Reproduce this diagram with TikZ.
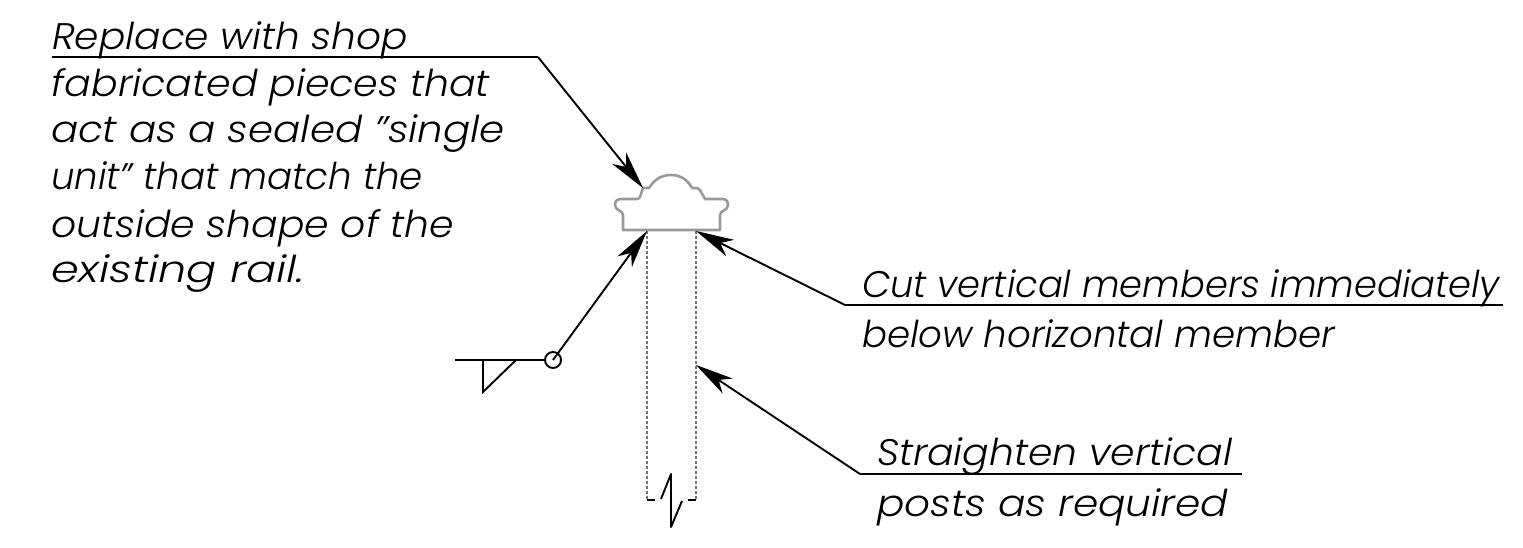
\documentclass[tikz,border=0pt]{standalone}
\usepackage{fontspec}
\usepackage{graphicx}
\setmainfont{Poppins}[UprightFont=* Light,ItalicFont=* Light Italic]
\usetikzlibrary{arrows.meta}
\newcommand\fitline[2]{\resizebox{#1pt}{\height}{\itshape\strut #2}}
\tikzset{
  x=1pt,y=-1pt,
  cadtext/.style={anchor=base west,inner sep=0pt,outer sep=0pt,font=\fontsize{37}{37}\selectfont},
  leader/.style={line width=1.9pt,black,-{Stealth[length=38pt,width=18pt,inset=11pt]}},
  rule/.style={line width=1.9pt,black},
  railedge/.style={line width=2.6pt,color=black!40},
  hidden/.style={line width=2.4pt,color=black!55,dash pattern=on 3pt off 2pt},
}
\begin{document}
\begin{tikzpicture}
\useasboundingbox (0,0) rectangle (1523,548);
% left note
\node[cadtext] (n1) at (52,50) {\fitline{356}{Replace with shop}};
\node[cadtext] (n2) at (52,97) {\fitline{438}{fabricated pieces that}};
\node[cadtext] (n3) at (51,143) {\fitline{454}{act as a sealed "single}};
\node[cadtext] (n4) at (51,190) {\fitline{372}{unit" that match the}};
\node[cadtext] (n5) at (51,237) {\fitline{403}{outside shape of the}};
\node[cadtext] (n6) at (51,283) {\fitline{254}{existing rail.}};
% right notes
\node[cadtext] (c1) at (862,297) {\fitline{638}{Cut vertical members immediately}};
\node[cadtext] (c2) at (862,347) {\fitline{473}{below horizontal member}};
\node[cadtext] (s1) at (877,465) {\fitline{355}{Straighten vertical}};
\node[cadtext] (s2) at (877,516) {\fitline{351}{posts as required}};
% rail
\draw[railedge,line join=round]
  (623,230) -- (720,230) -- (720,215)
  .. controls (720,210) and (728,211) .. (728,205)
  .. controls (728,201) and (726,199) .. (722,199)
  -- (705,199) -- (700,190) .. controls (699,188) and (697,188) .. (692,188)
  .. controls (687,179) and (680,175) .. (671,175)
  .. controls (661,175) and (654,180) .. (649,188)
  -- (643,188) -- (640,197) .. controls (639,199) and (638,199) .. (636,199)
  -- (622,199) .. controls (617,199) and (615,201) .. (615,205)
  .. controls (615,211) and (623,210) .. (623,215) -- cycle;
% posts
\coordinate (pl) at (647,231);
\coordinate (pr) at (696,231);
\coordinate (bl) at (647,500);
\coordinate (br) at (696,500);
\draw[hidden] (pl) -- (bl);
\draw[hidden] (pr) -- (br);
\draw[rule] (bl) -- (655,500);
\draw[rule,line join=round] (661,499) -- (671,474) -- (671,527) -- (682,501);
\draw[rule] (688,500) -- (br);
% leaders
\coordinate (l1a) at (52,57);
\coordinate (l1b) at (538,57);
\coordinate (l1t) at (643,188);
\draw[rule] (l1a) -- (l1b);
\draw[leader] (l1b) -- (l1t);
\coordinate (l3a) at (1503,305);
\coordinate (l3b) at (845,305);
\draw[rule] (l3a) -- (l3b);
\draw[leader] (l3b) -- (pr);
\coordinate (l4a) at (1242,474);
\coordinate (l4b) at (860,474);
\coordinate (l4t) at (696,365);
\draw[rule] (l4a) -- (l4b);
\draw[leader] (l4b) -- (l4t);
% weld symbol
\coordinate (w0) at (455,360);
\coordinate (w1) at (483,360);
\coordinate (w2) at (483,392);
\coordinate (w3) at (516,360);
\node[circle,draw,line width=1.9pt,minimum size=16pt,inner sep=0pt] (wc) at (553,360) {};
\draw[rule] (w0) -- (wc.west);
\draw[rule] (w1) -- (w2) -- (w3);
\draw[leader] (wc.center) -- (pl);
\end{tikzpicture}
\end{document}
